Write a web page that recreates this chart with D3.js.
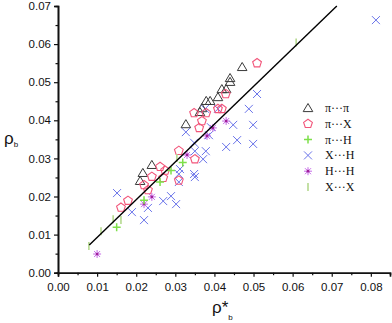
<!DOCTYPE html>
<html><head><meta charset="utf-8">
<script src="https://cdnjs.cloudflare.com/ajax/libs/d3/7.8.5/d3.min.js"></script>
<style>html,body{margin:0;padding:0;background:#fff;}svg{display:block;}</style>
</head><body>
<svg id="c" width="392" height="323"></svg>
<script>
// π···π (triangles)
const piPiX = [0.0471,0.0440,0.0440,0.0419,0.0430,0.0409,0.0379,0.0389,0.0368,0.0363,0.0327,0.0240,0.0217,0.0210];
const piPiY = [0.0540,0.0511,0.0501,0.0482,0.0482,0.0461,0.0451,0.0451,0.0432,0.0422,0.0390,0.0283,0.0262,0.0241];
// π···X (pentagons)
const piXX = [0.0509,0.0429,0.0409,0.0419,0.0348,0.0379,0.0368,0.0361,0.0309,0.0350,0.0261,0.0274,0.0240,0.0269,0.0220,0.0230,0.0179,0.0161,0.0309];
const piXY = [0.0550,0.0469,0.0430,0.0430,0.0419,0.0419,0.0398,0.0380,0.0320,0.0298,0.0278,0.0268,0.0252,0.0249,0.0230,0.0217,0.0189,0.0171,0.0242];
// π···H (plus)
const piHX = [0.0319,0.0289,0.0261,0.0220,0.0150];
const piHY = [0.0289,0.0268,0.0238,0.0190,0.0119];
// X···H (crosses)
const xHX = [0.0813,0.0509,0.0488,0.0448,0.0499,0.0458,0.0499,0.0430,0.0327,0.0391,0.0386,0.0348,0.0350,0.0378,0.0371,0.0312,0.0348,0.0350,0.0151,0.0189,0.0220,0.0230,0.0269,0.0289,0.0302,0.0309,0.0309,0.0409,0.0376];
const xHY = [0.0663,0.0469,0.0430,0.0388,0.0388,0.0348,0.0338,0.0330,0.0369,0.0382,0.0361,0.0341,0.0319,0.0319,0.0298,0.0272,0.0259,0.0251,0.0209,0.0159,0.0138,0.0170,0.0188,0.0201,0.0180,0.0259,0.0238,0.0430,0.0430];
// H···H (stars)
const hHX = [0.0430,0.0396,0.0381,0.0330,0.0240,0.0220,0.0100];
const hHY = [0.0398,0.0380,0.0359,0.0309,0.0199,0.0180,0.0049];
// X···X (bars)
const xXX = [0.0609,0.0079,0.0110,0.0141,0.0161,0.0304];
const xXY = [0.0604,0.0070,0.0109,0.0140,0.0138,0.0301];
// fit line
const fitX = [0.0080,0.0713];
const fitY = [0.0073,0.0700];
const xTicks = [0,0.01,0.02,0.03,0.04,0.05,0.06,0.07,0.08];
const yTicks = [0,0.01,0.02,0.03,0.04,0.05,0.06,0.07];
const legendLabels = ["π···π","π···X","π···H","X···H","H···H","X···X"];

const svg = d3.select("#c");
const x = d3.scaleLinear().domain([0,0.0849]).range([58,390]);
const y = d3.scaleLinear().domain([0,0.07]).range([272.7,6]);

// symbol painters
const painters = {
  tri: (g)=> g.append("path").attr("d","M0,-4.5L4.8,3.6L-4.8,3.6Z").attr("fill","none").attr("stroke","#3a3a3a").attr("stroke-width",1),
  pent: (g)=> { const r=4.6; const pts=d3.range(5).map(i=>{const a=-Math.PI/2+i*2*Math.PI/5;return [r*Math.cos(a),r*Math.sin(a)];});
      g.append("path").attr("d","M"+pts.join("L")+"Z").attr("fill","none").attr("stroke","#f2557a").attr("stroke-width",1.1);},
  plus: (g)=> g.append("path").attr("d","M-4,0H4M0,-4V4").attr("stroke","#7ee04a").attr("stroke-width",1.5),
  cross: (g)=> g.append("path").attr("d","M-4,-4L4,4M-4,4L4,-4").attr("stroke","#6a74ea").attr("stroke-width",1),
  star: (g)=> { g.append("path").attr("d","M-4,0H4M0,-4V4M-3,-3L3,3M-3,3L3,-3").attr("stroke","#c66ae8").attr("stroke-width",1);
      g.append("circle").attr("r",1.4).attr("fill","#a0209a"); },
  bar: (g)=> g.append("path").attr("d","M0,-4V4").attr("stroke","#b5d98f").attr("stroke-width",1.6)
};

function drawSeries(xs, ys, kind){
  const g = svg.append("g");
  xs.forEach((v,i)=>{
    const s = g.append("g").attr("transform",`translate(${x(v)},${y(ys[i])})`);
    painters[kind](s);
  });
}

// axes
const yAxis = d3.axisLeft(y).tickValues(yTicks).tickFormat(d3.format(".2f")).tickSize(4).tickPadding(3);
const yMinor = d3.axisLeft(y).tickValues(d3.range(0.005,0.07,0.01)).tickFormat("").tickSize(2.5);
const xAxis = d3.axisBottom(x).tickValues(xTicks).tickFormat(d3.format(".2f")).tickSize(4).tickPadding(4);
const xMinor = d3.axisBottom(x).tickValues(d3.range(0.005,0.085,0.01)).tickFormat("").tickSize(2.5);

function styleAxis(g){
  g.select(".domain").attr("stroke","#111").attr("stroke-width",1.6);
  g.selectAll(".tick line").attr("stroke","#111").attr("stroke-width",1.2);
  g.selectAll(".tick text").attr("font-family","Arial, 'Liberation Sans', sans-serif").attr("font-size",11.5).attr("fill","#111");
}
const gy = svg.append("g").attr("transform","translate(58,0)").call(yAxis); styleAxis(gy);
const gym = svg.append("g").attr("transform","translate(58,0)").call(yMinor); styleAxis(gym);
const gx = svg.append("g").attr("transform","translate(0,272.7)").call(xAxis); styleAxis(gx);
const gxm = svg.append("g").attr("transform","translate(0,272.7)").call(xMinor); styleAxis(gxm);
gx.selectAll(".tick text").attr("dy","0.9em");

// axis titles
const yl = svg.append("text").attr("x",4).attr("y",144).attr("font-family","Arial, 'Liberation Sans', sans-serif").attr("font-size",17).attr("fill","#111");
yl.append("tspan").text("ρ");
yl.append("tspan").attr("font-size",8).attr("dy",3).text("b");
const xl = svg.append("text").attr("x",212).attr("y",313).attr("font-family","Arial, 'Liberation Sans', sans-serif").attr("font-size",17).attr("fill","#111");
xl.append("tspan").text("ρ*");
xl.append("tspan").attr("font-size",8).attr("dy",7).text("b");

// series
drawSeries(xHX, xHY, "cross");
drawSeries(piPiX, piPiY, "tri");
drawSeries(piXX, piXY, "pent");
drawSeries(hHX, hHY, "star");
drawSeries(piHX, piHY, "plus");
drawSeries(xXX, xXY, "bar");

// fit line
svg.append("path").datum(fitX.map((v,i)=>[v,fitY[i]]))
  .attr("d", d3.line().x(d=>x(d[0])).y(d=>y(d[1])))
  .attr("stroke","#000").attr("stroke-width",1.4).attr("fill","none");

// legend
const kinds = ["tri","pent","plus","cross","star","bar"];
const lg = svg.append("g");
kinds.forEach((k,i)=>{
  const yy = 108 + i*15.8;
  const s = lg.append("g").attr("transform",`translate(308,${yy})`);
  painters[k](s);
  lg.append("text").attr("x",325).attr("y",yy+4).attr("font-family","'Liberation Serif', 'Times New Roman', serif")
    .attr("font-size",12).attr("fill","#111").text(legendLabels[i]);
});
</script>
</body></html>
